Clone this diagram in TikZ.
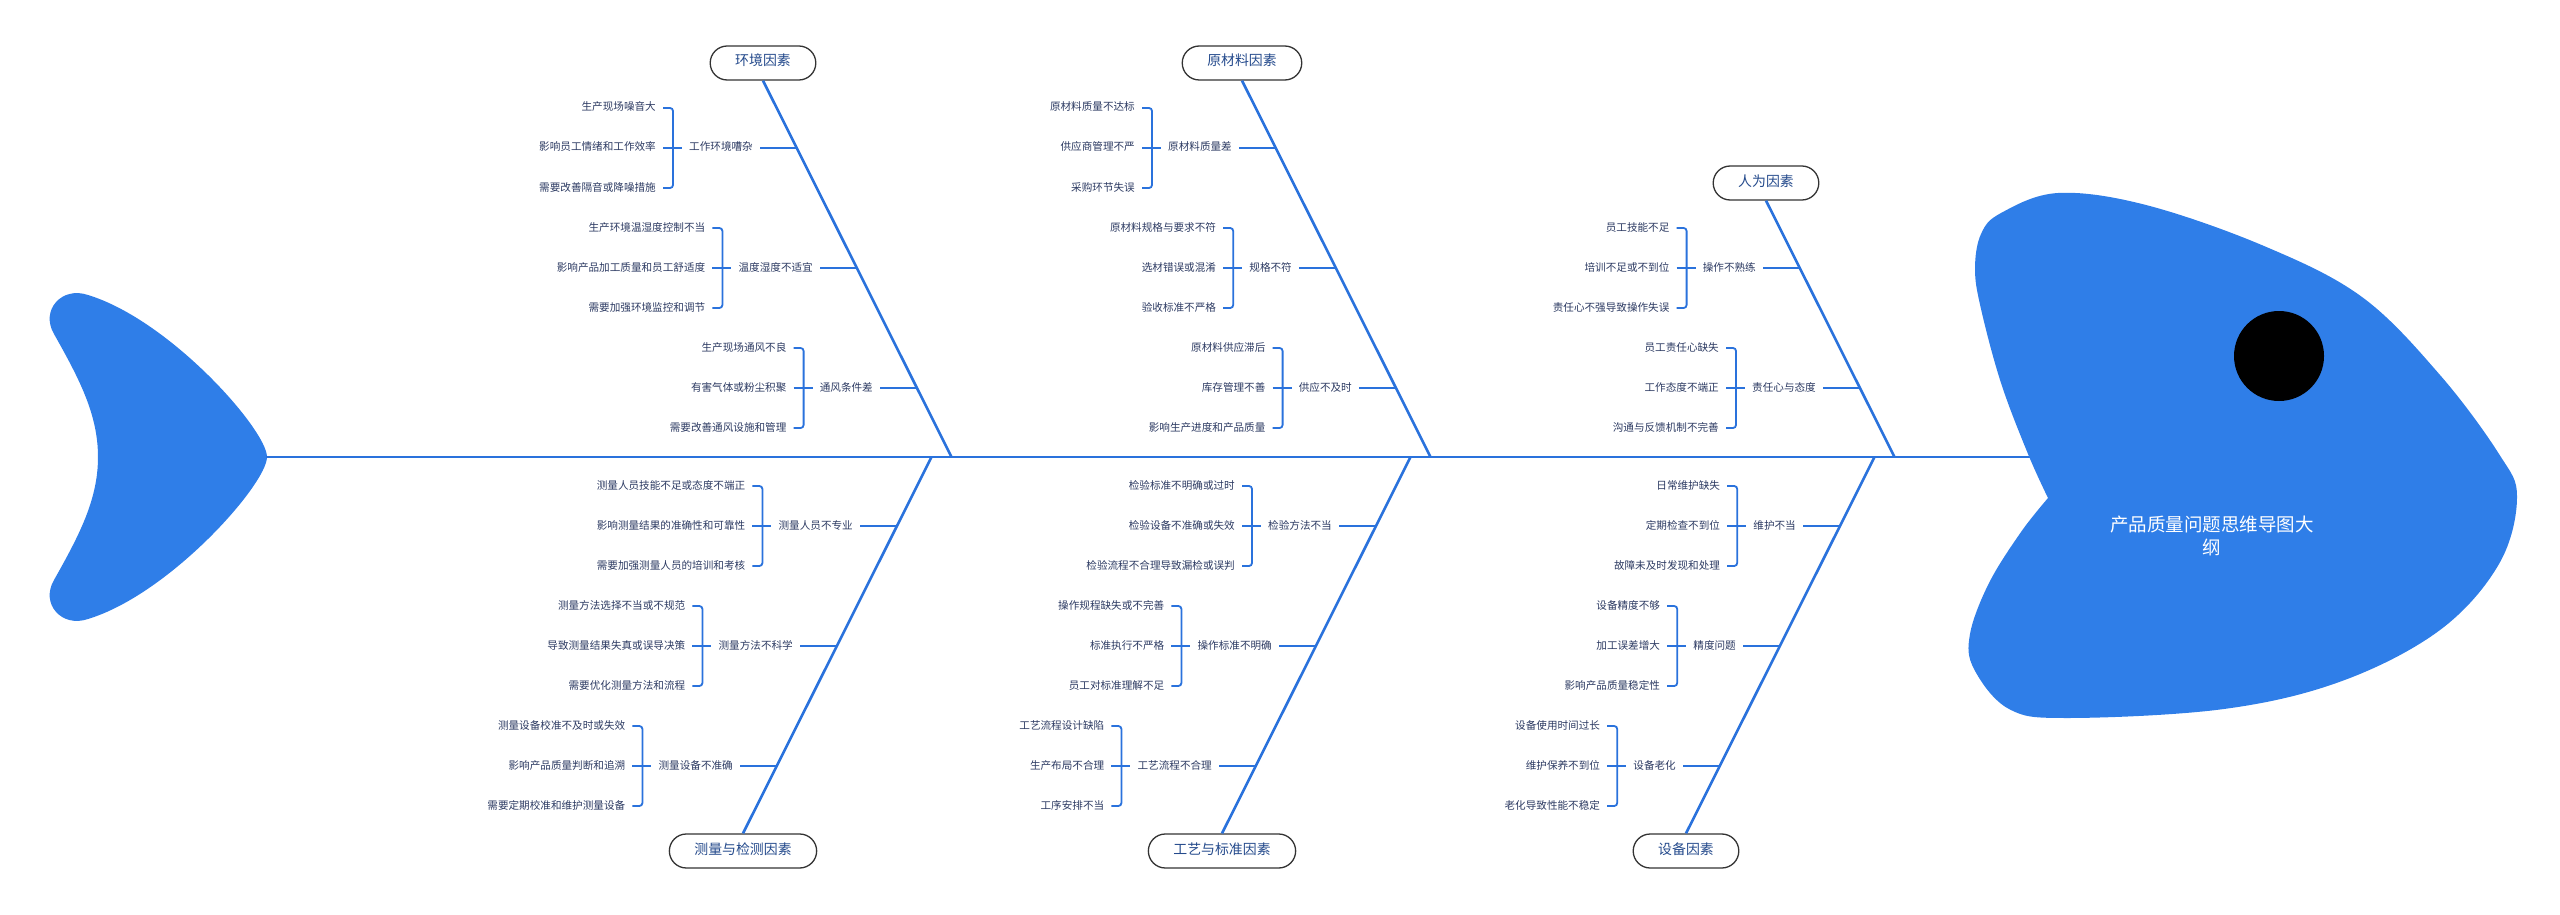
\documentclass[tikz,border=0pt]{standalone}
\usepackage{fontspec}
\newfontfamily\cjk{Noto Sans CJK SC}
\usetikzlibrary{calc}
\definecolor{fishblue}{HTML}{2F7EE8}
\definecolor{bonecol}{HTML}{2A72DC}
\definecolor{leafcol}{HTML}{2C3A62}
\definecolor{titlecol}{HTML}{244A8C}
\definecolor{boxline}{HTML}{333333}
\tikzset{
  leaftext/.style={inner xsep=7pt, inner ysep=0pt, text height=0.8em, text depth=0.2em, text=leafcol, font=\cjk\fontsize{10.6}{12}\selectfont},
  cattext/.style={leaftext},
  branch/.style={draw=bonecol, line width=1.8pt},
  bone/.style={draw=bonecol, line width=2.6pt},
  titlebox/.style={draw=boxline, line width=1.3pt, rounded corners=17pt, minimum height=34pt, inner xsep=25pt, inner ysep=0pt, text height=0.8em, text depth=0.2em, text=titlecol, fill=white, font=\cjk\fontsize{13.9}{15}\selectfont},
}
\newcommand\fbgrp[7]{%
  \coordinate (#1b) at (#2,#3);
  \node[cattext, anchor=east] (#1c) at (#2-37,#3) {#4};
  \coordinate (#1k) at ($(#1c.west)+(-9,0)$);
  \node[leaftext, anchor=east] (#1x) at ($(#1k)+(-10,-40)$) {#5};
  \node[leaftext, anchor=east] (#1y) at ($(#1k)+(-10,0)$) {#6};
  \node[leaftext, anchor=east] (#1z) at ($(#1k)+(-10,40)$) {#7};
  \draw[branch] (#1c.east) -- (#1b);
  \draw[branch] (#1y.east) -- (#1c.west);
  \draw[branch, rounded corners=3pt] (#1x.east) -| (#1k) |- (#1z.east);
}
\begin{document}
\begin{tikzpicture}[x=1pt, y=-1pt]
\useasboundingbox (0,0) rectangle (2560,915);
% tail
\fill[fishblue] (267,457)
  .. controls (267,430) and (170,320) .. (88,295)
  .. controls (62,286) and (40,310) .. (54,334)
  .. controls (80,380) and (98,415) .. (98,457)
  .. controls (98,499) and (80,534) .. (54,580)
  .. controls (40,604) and (62,628) .. (88,619)
  .. controls (170,594) and (267,484) .. (267,457) -- cycle;
\coordinate (tailtip) at (266,457);
\coordinate (headedge) at (2032,457);
\draw[bone] (tailtip) -- (headedge);
% head
\fill[fishblue] plot[smooth, tension=0.6] coordinates {(2048,498) (2028,454) (2001,383) (1981,309) (1975,269) (1981,234) (2001,213) (2058,193) (2146,205) (2264,246) (2362,297) (2440,375) (2499,454) (2517,497) (2499,564) (2440,630) (2342,681) (2224,709) (2068,718) (2009,709) (1974,669) (1970,634) (1989,583) (2021,532) (2048,498)} -- cycle;
\fill[black] (2279,356) circle (45);
\node[text=white, align=center, font=\cjk\fontsize{18.5}{23}\selectfont] (title) at (2212,536) {产品质量问题思维导图大\\纲};
% spine points
\coordinate (s1) at (951.5,457);
\coordinate (s2) at (1430.5,457);
\coordinate (s3) at (1894.5,457);
\coordinate (s4) at (931.5,457);
\coordinate (s5) at (1410.5,457);
\coordinate (s6) at (1874.5,457);
% bones
\node[titlebox] (b1) at (763,63) {环境因素};
\node[titlebox] (b2) at (1242,63) {原材料因素};
\node[titlebox] (b3) at (1766,183) {人为因素};
\node[titlebox] (b4) at (743,851) {测量与检测因素};
\node[titlebox] (b5) at (1222,851) {工艺与标准因素};
\node[titlebox] (b6) at (1686,851) {设备因素};
\draw[bone] (b1.south) -- (s1);
\draw[bone] (b2.south) -- (s2);
\draw[bone] (b3.south) -- (s3);
\draw[bone] (b4.north) -- (s4);
\draw[bone] (b5.north) -- (s5);
\draw[bone] (b6.north) -- (s6);
% groups
\fbgrp{ga}{797}{148}{工作环境嘈杂}{生产现场噪音大}{影响员工情绪和工作效率}{需要改善隔音或降噪措施}
\fbgrp{gb}{857}{268}{温度湿度不适宜}{生产环境温湿度控制不当}{影响产品加工质量和员工舒适度}{需要加强环境监控和调节}
\fbgrp{gc}{917}{388}{通风条件差}{生产现场通风不良}{有害气体或粉尘积聚}{需要改善通风设施和管理}
\fbgrp{gd}{1276}{148}{原材料质量差}{原材料质量不达标}{供应商管理不严}{采购环节失误}
\fbgrp{ge}{1336}{268}{规格不符}{原材料规格与要求不符}{选材错误或混淆}{验收标准不严格}
\fbgrp{gf}{1396}{388}{供应不及时}{原材料供应滞后}{库存管理不善}{影响生产进度和产品质量}
\fbgrp{gg}{1800}{268}{操作不熟练}{员工技能不足}{培训不足或不到位}{责任心不强导致操作失误}
\fbgrp{gh}{1860}{388}{责任心与态度}{员工责任心缺失}{工作态度不端正}{沟通与反馈机制不完善}
\fbgrp{gi}{897}{526}{测量人员不专业}{测量人员技能不足或态度不端正}{影响测量结果的准确性和可靠性}{需要加强测量人员的培训和考核}
\fbgrp{gj}{837}{646}{测量方法不科学}{测量方法选择不当或不规范}{导致测量结果失真或误导决策}{需要优化测量方法和流程}
\fbgrp{gk}{777}{766}{测量设备不准确}{测量设备校准不及时或失效}{影响产品质量判断和追溯}{需要定期校准和维护测量设备}
\fbgrp{gl}{1376}{526}{检验方法不当}{检验标准不明确或过时}{检验设备不准确或失效}{检验流程不合理导致漏检或误判}
\fbgrp{gm}{1316}{646}{操作标准不明确}{操作规程缺失或不完善}{标准执行不严格}{员工对标准理解不足}
\fbgrp{gn}{1256}{766}{工艺流程不合理}{工艺流程设计缺陷}{生产布局不合理}{工序安排不当}
\fbgrp{go}{1840}{526}{维护不当}{日常维护缺失}{定期检查不到位}{故障未及时发现和处理}
\fbgrp{gp}{1780}{646}{精度问题}{设备精度不够}{加工误差增大}{影响产品质量稳定性}
\fbgrp{gq}{1720}{766}{设备老化}{设备使用时间过长}{维护保养不到位}{老化导致性能不稳定}
\end{tikzpicture}
\end{document}
